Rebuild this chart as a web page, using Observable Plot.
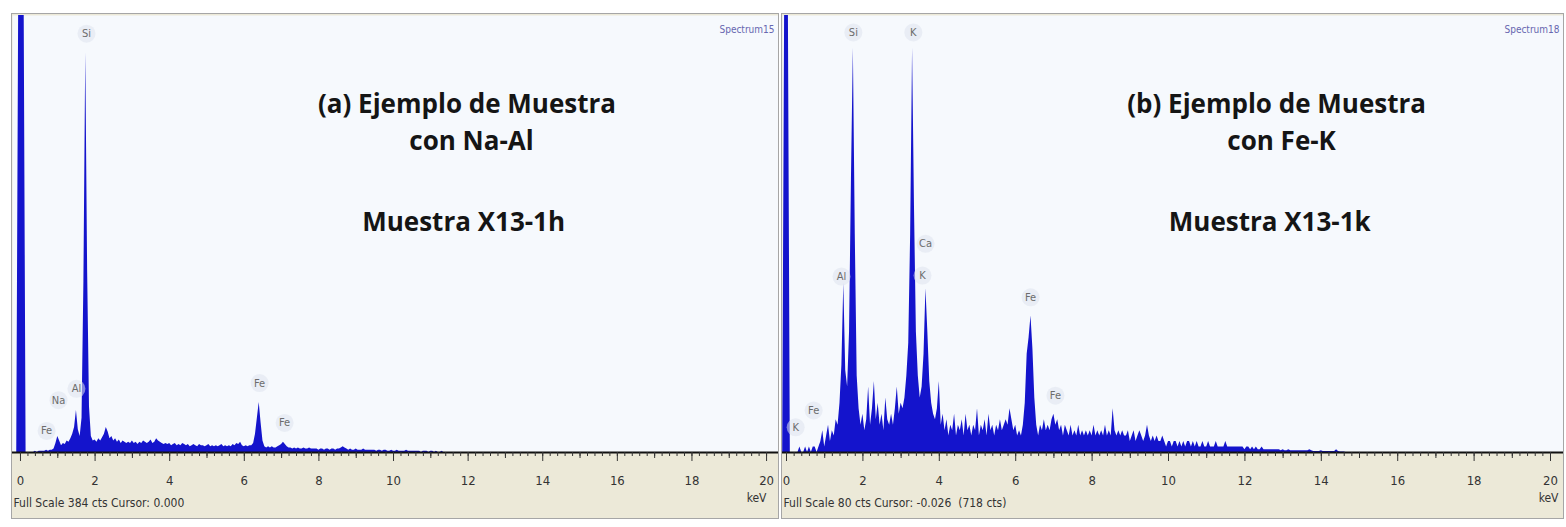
<!DOCTYPE html>
<html><head><meta charset="utf-8">
<script src="https://cdn.jsdelivr.net/npm/d3@7"></script>
<script src="https://cdn.jsdelivr.net/npm/@observablehq/plot@0.6"></script>
<style>
html,body{margin:0;padding:0;background:#fff;}
#wrap{position:relative;width:1566px;height:527px;overflow:hidden;background:#fff;}
.panel{position:absolute;top:14px;height:504px;outline:1px solid #a6a6a6;background:#ece9d8;}
.panel svg{display:block;}
.panel svg text{font-stretch:condensed;}
.panel svg g[font-weight="bold"] text{font-stretch:normal;}
</style></head><body>
<div id="wrap">
  <div id="pa" class="panel" style="left:12px;width:766px"></div>
  <div id="pb" class="panel" style="left:782px;width:781px"></div>
</div>
<script>
// channel grid (keV) of the spectra
const chStart = -0.10, chStep = 0.05;

// Spectrum (a) counts, one row per keV (-0.10 .. 11.85)
const countsA = [
  0,384,384,384,384,0, 0,0,0,0,1,0,1,1,1,1,2,1,2,2,
  3,8,14,10,6,8,7,10,9,12,16,22,37,20,14,30,150,351,160,40,
  14,10,11,9,12,10,13,16,22,18,12,14,10,12,9,11,8,10,9,8,
  9,8,10,8,9,7,9,8,10,9,8,9,11,8,9,12,10,9,8,7,
  8,7,8,6,7,8,6,7,6,8,7,6,7,5,6,7,6,5,7,6,
  6,5,6,7,5,6,5,6,5,6,7,5,6,5,6,5,7,6,8,7,
  9,6,5,6,5,6,6,8,16,30,44,26,10,5,4,5,4,5,4,4,
  5,6,7,9,7,5,4,4,3,4,3,4,3,3,4,3,3,4,3,3,
  3,3,2,3,3,2,3,3,2,3,3,2,3,3,4,5,4,3,2,3,
  2,2,3,2,2,2,3,2,2,2,2,2,2,1,2,2,1,2,2,1,
  1,2,1,1,2,1,1,1,1,2,1,1,1,1,1,1,1,0,1,1,
  1,0,1,1,0,1,0,0,1,0,0,0,0,0,0,0,0,0,0,0
];

// Spectrum (b) counts, one row per keV (-0.10 .. 14.85)
const countsB = [
  0,80,80,80,0, 0,0,0,0,1,0,0,1,0,1,0,1,1,0,1,
  2,4,1,3,5,2,4,3,6,5,9,16,31,15,12,22,50,74,40,14,
  8,5,7,4,6,12,5,8,13,6,9,5,7,4,10,6,5,7,5,8,
  12,7,9,8,10,14,20,40,74,45,22,14,10,12,18,30,22,13,9,7,
  6,8,13,5,7,4,6,3,5,4,7,3,5,4,6,3,7,4,5,3,
  5,4,8,3,5,4,6,3,7,4,5,3,5,4,6,4,5,6,5,8,
  6,4,5,3,4,3,5,9,18,21,25,19,10,5,3,5,4,6,4,5,
  4,6,7,5,6,4,5,3,5,4,3,5,3,4,3,5,3,4,3,4,
  3,4,3,5,3,4,3,4,3,5,3,4,3,8,4,3,4,3,4,3,
  3,4,2,3,4,2,3,4,3,2,3,5,3,2,3,2,3,2,2,3,
  2,1,2,2,1,2,2,1,2,1,2,1,2,2,1,2,1,2,1,1,
  2,1,1,2,1,1,1,2,1,1,1,1,2,1,1,1,1,1,1,1,
  1,1,0.5,1,1,0.5,1,0.5,1,0.5,0.5,1,0.5,0.5,0.5,0.5,0.5,0.5,0.5,0.5,
  0.5,0.3,0.5,0.3,0.3,0.5,0.3,0.3,0.3,0.3,0.3,0.3,0.3,0.3,0.3,0.3,0.5,0.3,0.2,0.2,
  0.2,0.2,0.3,0.2,0.2,0.2,0.2,0.2,0.2,0.2,0.5,0.2,0.1,0.1,0.1,0,0,0,0,0
];

// element peak labels
const labelsA   = ["Si", "Al", "Na", "Fe", "Fe", "Fe"];
const labelKeVA = [1.77, 1.50, 1.02, 0.70, 6.41, 7.08];
const labelCtsA = [368, 56, 46, 19, 61, 26];

const labelsB   = ["Si", "K", "Al", "Ca", "K", "Fe", "Fe", "Fe", "K"];
const labelKeVB = [1.75, 3.32, 1.44, 3.64, 3.56, 6.39, 7.04, 0.71, 0.24];
const labelCtsB = [76.9, 76.9, 32.2, 38.2, 32.4, 28.4, 10.4, 7.7, 4.6];

// axis ticks (keV)
const majorTicks = [0, 2, 4, 6, 8, 10, 12, 14, 16, 18, 20];
const midTicks = [1, 3, 5, 7, 9, 11, 13, 15, 17, 19];
const minorTicks = d3.range(0, 100.5, 1).map(i => +(i * 0.2).toFixed(1));

// texts
const fullScaleA = [384];
const fullScaleB = [80];
const spectrumNames = ["Spectrum15", "Spectrum18"];
const footerA = "Full Scale 384 cts Cursor: 0.000";
const footerB = "Full Scale 80 cts Cursor: -0.026  (718 cts)";
const titleA = ["(a) Ejemplo de Muestra", "con Na-Al"];
const titleB = ["(b) Ejemplo de Muestra", "con Fe-K"];
const sampleA = "Muestra X13-1h";
const sampleB = "Muestra X13-1k";

const condensed = "'Liberation Sans Narrow','DejaVu Sans Condensed','Arial Narrow',sans-serif";
const titleFont = "'Open Sans',sans-serif";

function toSpec(counts) {
  return counts.map((c, i) => ({keV: +(chStart + i * chStep).toFixed(2), cts: c}));
}
function toLabels(t, k, c) {
  return t.map((d, i) => ({text: d, keV: k[i], cts: c[i]}));
}

function panel(o) {
  const titleOpts = {fontFamily: titleFont, fontWeight: "bold", fontSize: 26, fill: "#151515"};
  return Plot.plot({
    width: o.width, height: 504,
    marginTop: 1, marginBottom: 66, marginLeft: 0, marginRight: 0,
    x: {domain: o.xDomain, axis: null},
    y: {domain: [0, o.full], axis: null},
    style: {background: "transparent", fontFamily: condensed, fontSize: "12px", color: "#2a2a2a"},
    marks: [
      Plot.frame({fill: "#f6f9fd", stroke: null}),
      Plot.areaY(o.spec, {x: "keV", y: "cts", fill: "#1414cc", curve: "linear"}),
      Plot.ruleY([0], {stroke: "#111", strokeWidth: 2}),
      Plot.axisX(minorTicks, {tickSize: 4, tickFormat: () => "", label: null, stroke: "#333"}),
      Plot.axisX(midTicks, {tickSize: 6, tickFormat: () => "", label: null, stroke: "#333"}),
      Plot.axisX(majorTicks, {tickSize: 9, tickPadding: 14, label: null, stroke: "#333", fill: "#333", fontSize: 13, fontFamily: condensed}),
      Plot.dot(o.labels, {x: "keV", y: "cts", r: 9, fill: "#dfe4ee", fillOpacity: 0.55}),
      Plot.text(o.labels, {x: "keV", y: "cts", text: "text", fill: "#6c6c6c", fontSize: 11, fontFamily: condensed}),
      Plot.text([o.name], {frameAnchor: "top-right", dx: -4, dy: 10, fill: "#6767b0", fontSize: 10, fontFamily: condensed}),
      Plot.text([o.footer], {frameAnchor: "bottom-left", dx: 1, dy: 51, lineAnchor: "middle", textAnchor: "start", fill: "#333", fontSize: 12, fontFamily: condensed}),
      Plot.text(["keV"], {frameAnchor: "bottom-right", dx: o.kevDx, dy: 46, lineAnchor: "middle", textAnchor: "end", fill: "#333", fontSize: 12, fontFamily: condensed}),
      Plot.text([o.title[0]], {x: o.tx[0], y: o.ty[0], ...titleOpts}),
      Plot.text([o.title[1]], {x: o.tx[1], y: o.ty[1], ...titleOpts}),
      Plot.text([o.sample], {x: o.tx[2], y: o.ty[2], ...titleOpts})
    ]
  });
}

document.getElementById("pa").appendChild(panel({
  width: 766, xDomain: [-0.214, 20.32], full: fullScaleA[0],
  spec: toSpec(countsA), labels: toLabels(labelsA, labelKeVA, labelCtsA),
  name: spectrumNames[0], footer: footerA, kevDx: -12,
  title: titleA, sample: sampleA,
  tx: [11.97, 12.09, 11.88], ty: [305.8, 273.3, 202.1]
}));

document.getElementById("pb").appendChild(panel({
  width: 781, xDomain: [-0.105, 20.34], full: fullScaleB[0],
  spec: toSpec(countsB), labels: toLabels(labelsB, labelKeVB, labelCtsB),
  name: spectrumNames[1], footer: footerB, kevDx: -5,
  title: titleB, sample: sampleB,
  tx: [12.83, 12.96, 12.65], ty: [63.7, 56.9, 42.1]
}));
</script>
</body></html>
